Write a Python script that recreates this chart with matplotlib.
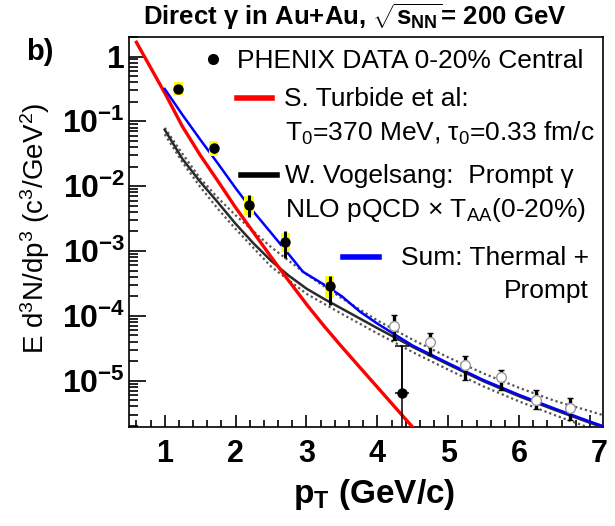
import numpy as np
import matplotlib.pyplot as plt
from matplotlib.lines import Line2D
from matplotlib.ticker import FixedLocator, MultipleLocator, LogLocator, NullFormatter

plt.rcParams["font.family"] = ["Liberation Sans", "DejaVu Sans"]
plt.rcParams["mathtext.fontset"] = "custom"
plt.rcParams["mathtext.rm"] = "Liberation Sans"
plt.rcParams["mathtext.it"] = "Liberation Sans:italic"
plt.rcParams["mathtext.bf"] = "Liberation Sans:bold"

# PHENIX direct photons, 0-20% central Au+Au
phenix_pt = [1.19, 1.69, 2.19, 2.70, 3.33, 4.35]
phenix_y = [0.32, 0.0385, 5.15e-3, 1.40e-3, 2.84e-4, 6.5e-6]
phenix_stat_hi = [0.37, 0.045, 7.3e-3, 2.0e-3, 4.05e-4, 3.4e-5]
phenix_stat_lo = [0.28, 0.033, 3.4e-3, 7.8e-4, 1.48e-4, 1e-7]
phenix_sys_pt = [1.19, 1.69, 2.19, 2.70, 3.33]
phenix_sys_hi = [0.41, 0.050, 7.1e-3, 1.89e-3, 4.05e-4]
phenix_sys_lo = [0.255, 0.0293, 3.6e-3, 9.8e-4, 1.88e-4]

# high pT points (open circles)
hipt_pt = [4.24, 4.74, 5.24, 5.74, 6.24, 6.72]
hipt_y = [7.0e-5, 3.95e-5, 1.77e-5, 1.12e-5, 5.1e-6, 3.8e-6]
hipt_hi = [1.04e-4, 5.4e-5, 2.4e-5, 1.48e-5, 7.3e-6, 5.5e-6]
hipt_lo = [4.3e-5, 2.5e-5, 1.04e-5, 7.3e-6, 3.6e-6, 2.5e-6]

# thermal (Turbide et al.)
thermal_pt = [0.6, 0.8, 1.0, 1.25, 1.5, 1.75, 2.0, 2.25, 2.5, 2.75, 3.0,
              3.25, 3.5, 3.75, 4.0, 4.25, 4.5]
thermal_y = [1.66, 0.676, 0.275, 0.0832, 0.0302, 0.0120, 4.68e-3, 1.95e-3,
             8.13e-4, 3.47e-4, 1.51e-4, 6.92e-5, 3.31e-5, 1.62e-5, 7.94e-6,
             3.89e-6, 1.91e-6]

# thermal + prompt
sum_pt = [1.0, 1.25, 1.5, 1.75, 2.0, 2.25, 2.5, 2.75, 2.95, 3.25, 3.5, 3.75,
          4.0, 4.5, 5.0, 5.5, 6.0, 6.5, 7.0, 7.18]
sum_y = [0.316, 0.126, 0.0525, 0.0224, 9.33e-3, 4.07e-3, 1.91e-3, 8.91e-4,
         4.79e-4, 3.02e-4, 2.0e-4, 1.17e-4, 7.59e-5, 3.47e-5, 1.86e-5,
         1.02e-5, 6.03e-6, 3.72e-6, 2.34e-6, 2.0e-6]

# prompt NLO pQCD x T_AA (Vogelsang) with scale band
prompt_pt = [1.0, 1.25, 1.5, 1.75, 2.0, 2.25, 2.5, 2.75, 3.0, 3.25, 3.5, 4.0,
             4.5, 5.0, 5.5, 6.0, 6.5, 7.0, 7.18]
prompt_y = [0.0741, 0.0263, 0.0117, 5.62e-3, 2.63e-3, 1.32e-3, 7.08e-4,
            4.17e-4, 2.63e-4, 1.82e-4, 1.29e-4, 6.46e-5, 3.31e-5, 1.78e-5,
            9.77e-6, 5.75e-6, 3.55e-6, 2.24e-6, 1.91e-6]
band_pt = [1.0, 1.25, 1.5, 1.75, 2.0, 2.5, 3.0, 3.5, 4.0, 4.5, 5.0, 5.5, 6.0,
           6.5, 7.0, 7.18]
band_hi = [0.0794, 0.0316, 0.0132, 6.6e-3, 3.55e-3, 1.15e-3, 4.37e-4,
           1.86e-4, 8.51e-5, 4.27e-5, 2.29e-5, 1.29e-5, 7.76e-6, 4.9e-6,
           3.39e-6, 2.95e-6]
band_lo = [0.0631, 0.0234, 9.77e-3, 4.47e-3, 2.19e-3, 5.75e-4, 2.19e-4,
           1.07e-4, 5.37e-5, 2.75e-5, 1.48e-5, 8.13e-6, 4.79e-6, 2.95e-6,
           1.86e-6, 1.58e-6]

x_ticks = [1, 2, 3, 4, 5, 6, 7]
y_ticks = [1e-5, 1e-4, 1e-3, 1e-2, 1e-1, 1]
y_tick_labels = [r"$\mathbf{10^{-5}}$", r"$\mathbf{10^{-4}}$", r"$\mathbf{10^{-3}}$",
                 r"$\mathbf{10^{-2}}$", r"$\mathbf{10^{-1}}$", r"$\mathbf{1}$"]

W, H = 615, 526


def px(x, y):
    """pixel position (from top-left) to figure fraction"""
    return x / W, 1 - y / H


def main():
    fig = plt.figure(figsize=(W / 100, H / 100), dpi=100)
    ax = fig.add_axes([129.3 / W, 1 - 426.7 / H, (602.7 - 129.3) / W, (426.7 - 37) / H])
    ax.set_yscale("log")
    ax.set_xlim(0.5, 7.18)
    ax.set_ylim(1.95e-6, 2.0)

    # scale band and prompt photons
    ax.plot(band_pt, band_hi, color="#555555", lw=1.6, ls=(0, (1, 1.3)), zorder=2)
    ax.plot(band_pt, band_lo, color="#555555", lw=1.6, ls=(0, (1, 1.3)), zorder=2)
    ax.plot(prompt_pt, prompt_y, color="#2a2a2a", lw=1.8, zorder=3)
    ax.plot(thermal_pt, thermal_y, color="#ff0000", lw=2.4, zorder=3)
    ax.plot(sum_pt, sum_y, color="#0000ff", lw=1.8, zorder=4)

    # systematic boxes
    sys_lo = np.array(phenix_sys_lo)
    sys_hi = np.array(phenix_sys_hi)
    ax.bar(phenix_sys_pt, sys_hi - sys_lo, bottom=sys_lo, width=0.13,
           color="#ffff00", edgecolor="none", zorder=5)

    y = np.array(phenix_y)
    lo = y - np.array(phenix_stat_lo)
    hi = np.array(phenix_stat_hi) - y
    ax.errorbar(phenix_pt[:-1], y[:-1], yerr=[lo[:-1], hi[:-1]],
                fmt="o", color="black", ms=6.5, elinewidth=2.2, capsize=0, zorder=6)
    # last point: thin bar reaching below the axis
    ax.errorbar([phenix_pt[-1]], [y[-1]], yerr=[[lo[-1]], [hi[-1]]],
                fmt="o", color="black", ms=6.5, elinewidth=1.1, capsize=0, zorder=6)
    ax.errorbar([phenix_pt[-1]], [y[-1]], yerr=[[0], [hi[-1]]],
                fmt="none", color="black", elinewidth=1.1, capsize=5, capthick=1.1, zorder=6)

    hy = np.array(hipt_y)
    ax.errorbar(hipt_pt, hy, yerr=[hy - np.array(hipt_lo), np.array(hipt_hi) - hy],
                fmt="o", mfc="white", mec="#999999", mew=1.0, ms=7, color="black",
                elinewidth=2.4, capsize=2, capthick=1.5, zorder=6)

    # axes styling
    for s in ax.spines.values():
        s.set_linewidth(1.2)
    ax.xaxis.set_major_locator(FixedLocator(x_ticks))
    ax.xaxis.set_minor_locator(MultipleLocator(0.2))
    # the last label is drawn separately, shifted against the frame
    ax.set_xticklabels([str(v) for v in x_ticks[:-1]] + [""], fontsize=22, fontweight="bold")
    ax.annotate(str(x_ticks[-1]), xy=(x_ticks[-1], 0), xycoords=ax.get_xaxis_transform(),
                xytext=(7, -9), textcoords="offset points", ha="center", va="top",
                fontsize=22, fontweight="bold")
    ax.yaxis.set_major_locator(FixedLocator(y_ticks))
    ax.set_yticklabels(y_tick_labels, fontsize=23)
    ax.yaxis.set_minor_locator(LogLocator(base=10, subs=np.arange(2, 10), numticks=20))
    ax.yaxis.set_minor_formatter(NullFormatter())
    ax.tick_params(axis="both", which="both", direction="in", top=False, right=False, width=1.2)
    ax.tick_params(axis="x", which="major", length=9, pad=9)
    ax.tick_params(axis="x", which="minor", length=5)
    ax.tick_params(axis="y", which="major", length=12, pad=3)
    ax.tick_params(axis="y", which="minor", length=6.5)

    fig.text(*px(374, 494), r"$\mathbf{p_{T}}$ (GeV/c)", fontsize=24, fontweight="bold",
             ha="center", va="center")
    fig.text(*px(35, 228), r"E d$^3$N/dp$^3$ (c$^3$/GeV$^2$)", fontsize=20,
             rotation=90, ha="center", va="center")
    fig.text(*px(355, 17), r"Direct γ in Au+Au, $\mathbf{\sqrt{s_{NN}}}$= 200 GeV",
             fontsize=18.5, fontweight="bold", ha="center", va="center")
    fig.text(*px(40, 52), "b)", fontsize=21, fontweight="bold", ha="center", va="center")

    # legend
    fs = 19
    fig.add_artist(Line2D([px(213, 59)[0]], [px(213, 59)[1]], marker="o", color="black", ms=7))
    fig.text(*px(237, 61), "PHENIX DATA 0-20% Central", fontsize=fs, va="center")
    x0, y0 = px(237, 98.3)
    x1, _ = px(272, 98.3)
    fig.add_artist(Line2D([x0, x1], [y0, y0], color="#ff0000", lw=4))
    fig.text(*px(284, 99), "S. Turbide et al:", fontsize=fs, va="center")
    fig.text(*px(285, 133), r"T$_0$=370 MeV, τ$_0$=0.33 fm/c", fontsize=fs, va="center")
    x0, y0 = px(241, 175)
    x1, _ = px(277, 175)
    fig.add_artist(Line2D([x0, x1], [y0, y0], color="black", lw=4))
    fig.text(*px(285, 176), "W. Vogelsang:  Prompt γ", fontsize=fs, va="center")
    fig.text(*px(285, 210), r"NLO pQCD × T$_{\mathrm{AA}}$(0-20%)", fontsize=fs, va="center")
    x0, y0 = px(343, 256.7)
    x1, _ = px(379, 256.7)
    fig.add_artist(Line2D([x0, x1], [y0, y0], color="#0000ff", lw=4))
    fig.text(*px(589, 258), "Sum: Thermal +", fontsize=fs, va="center", ha="right")
    fig.text(*px(589, 291), "Prompt", fontsize=fs, va="center", ha="right")

    fig.savefig("out.png", dpi=100)


if __name__ == "__main__":
    main()
